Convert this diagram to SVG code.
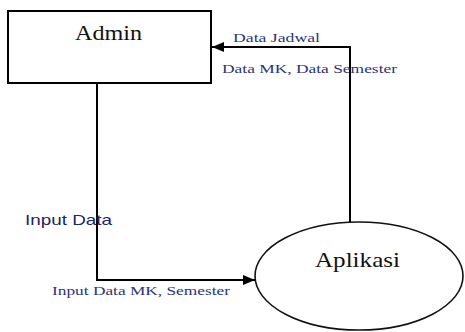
<svg xmlns="http://www.w3.org/2000/svg" width="465" height="332" viewBox="0 0 465 332">
  <style>
    .shape { fill: #ffffff; stroke: #000000; stroke-width: 2; }
    .oval { fill: #ffffff; stroke: #111111; stroke-width: 1.6; }
    .flow { fill: none; stroke: #000000; stroke-width: 2; }
    .title { font-family: 'Liberation Serif', 'Times New Roman', serif; fill: #111111; }
    .label { font-family: 'Liberation Serif', 'Times New Roman', serif; font-size: 13px; fill: #2c3478; }
    .side { font-family: 'Liberation Sans', Arial, sans-serif; font-size: 15px; fill: #1c2566; }
  </style>
  <defs>
    <marker id="arrow" markerWidth="12" markerHeight="10" refX="12" refY="5" orient="auto" markerUnits="userSpaceOnUse">
      <path d="M0,0 L12,5 L0,10 Z" fill="#000000"/>
    </marker>
  </defs>
  <rect x="0" y="0" width="465" height="332" fill="#ffffff"/>

  <!-- data flows between the two entities -->
  <g id="connectors">
    <path class="flow" d="M350,222 V47 H212" marker-end="url(#arrow)"/>
    <path class="flow" d="M97,83 V280 H255" marker-end="url(#arrow)"/>
  </g>

  <g id="admin">
    <rect class="shape" x="8" y="11" width="203" height="72"/>
    <text class="title" x="75" y="40" font-size="20" textLength="67" lengthAdjust="spacingAndGlyphs">Admin</text>
  </g>

  <g id="aplikasi">
    <ellipse class="oval" cx="359" cy="276" rx="104" ry="54"/>
    <text class="title" x="315" y="267" font-size="22" textLength="85" lengthAdjust="spacingAndGlyphs">Aplikasi</text>
  </g>

  <!-- flow labels -->
  <g id="labels">
    <text class="label" x="233" y="42" textLength="87" lengthAdjust="spacingAndGlyphs">Data Jadwal</text>
    <text class="label" x="222" y="73" textLength="175" lengthAdjust="spacingAndGlyphs">Data MK, Data Semester</text>
    <text class="side" x="25" y="225" textLength="87" lengthAdjust="spacingAndGlyphs">Input Data</text>
    <text class="label" x="52" y="295" textLength="178" lengthAdjust="spacingAndGlyphs">Input Data MK, Semester</text>
  </g>
</svg>
